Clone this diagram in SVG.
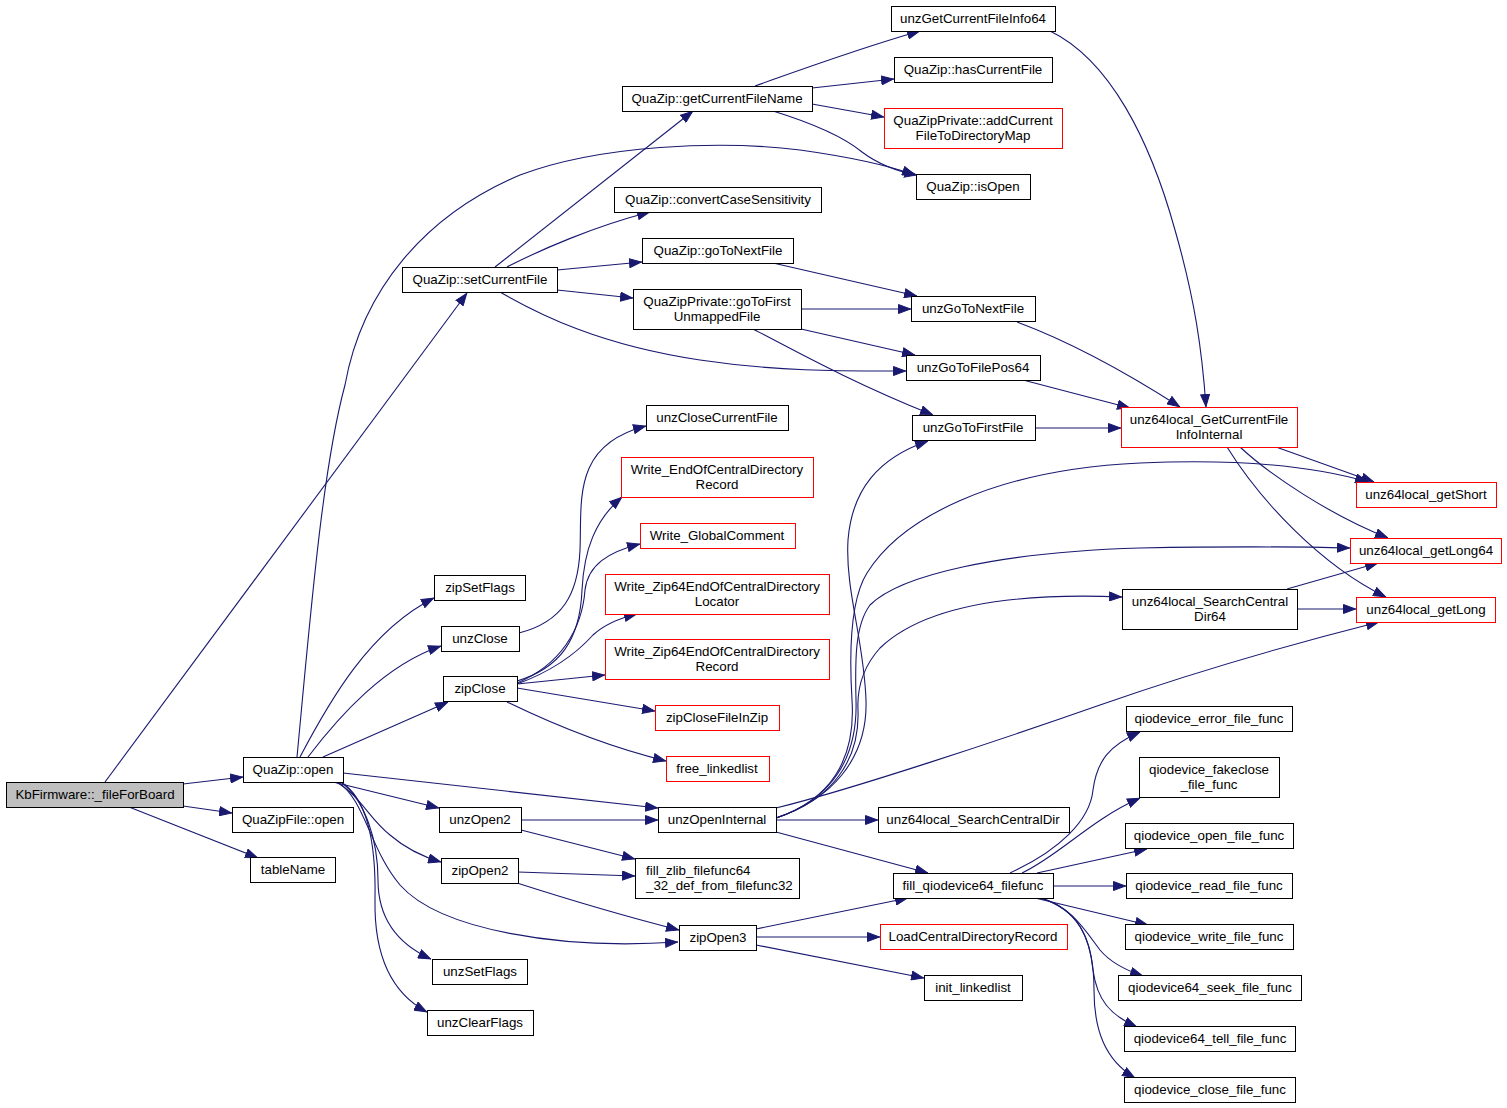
<svg xmlns="http://www.w3.org/2000/svg" width="1507" height="1108" viewBox="0 0 1507 1108">
<defs>
<marker id="ah" viewBox="0 0 13 10" markerWidth="13" markerHeight="10" refX="13" refY="5" markerUnits="userSpaceOnUse" orient="auto">
<path d="M0.5,0.5 L12.5,5 L0.5,9.5 z" fill="#191970" stroke="#191970" stroke-width="1"/>
</marker>
<style>
.n rect{fill:#ffffff;stroke:#000000;stroke-width:1}
.n.r rect{stroke:#ff0000}
.n.root rect{fill:#bfbfbf}
.n text{font-family:"Liberation Sans",Arial,Helvetica,sans-serif;font-size:13.33px;fill:#000000;text-anchor:middle}
.n text.l{text-anchor:start}
#edges path{fill:none;stroke:#191970;stroke-width:1.1;marker-end:url(#ah)}
</style>
</defs>
<rect x="0" y="0" width="1507" height="1108" fill="#ffffff"/>
<g id="edges">
<path d="M105,782 L467,293"/>
<path d="M183,784 L243,777"/>
<path d="M183,806 L232,813"/>
<path d="M129,807 L258,858"/>
<path d="M495,267 L693,111"/>
<path d="M507,267 C540,250 595,226 650,212"/>
<path d="M557,270 L642,262"/>
<path d="M557,290 L633,298"/>
<path d="M500,292 C540,315 600,345 700,360 C780,372 850,371 906,371"/>
<path d="M297,757 C310,620 322,470 345,385 C362,290 425,215 520,175 C600,145 720,140 800,150 C850,157 890,166 915,175"/>
<path d="M755,86 C800,70 860,48 920,31"/>
<path d="M812,88 L894,79"/>
<path d="M812,104 L884,117"/>
<path d="M773,111 C815,124 845,138 862,152 C878,164 895,171 917,175"/>
<path d="M773,263 L917,296"/>
<path d="M801,309 L911,309"/>
<path d="M801,329 L915,355"/>
<path d="M753,329 C790,348 850,382 933,415"/>
<path d="M1050,31 C1110,60 1150,140 1175,230 C1195,300 1202,350 1206,407"/>
<path d="M1017,322 C1060,338 1110,362 1180,407"/>
<path d="M1023,380 L1130,408"/>
<path d="M1035,428 L1121,428"/>
<path d="M1276,447 L1374,482"/>
<path d="M1240,447 C1270,475 1330,515 1388,538"/>
<path d="M1227,447 C1260,500 1320,565 1386,597"/>
<path d="M776,818 C830,800 868,760 866,700 C864,640 845,590 848,540 C852,490 878,458 928,441"/>
<path d="M776,818 C830,800 856,760 852,700 C849,650 850,600 867,573 C900,520 990,470 1140,463 C1250,458 1320,468 1368,482"/>
<path d="M776,818 C830,800 858,760 856,700 C855,660 855,625 870,605 C900,575 1000,552 1140,548 C1250,546 1310,547 1350,548"/>
<path d="M776,818 C832,800 860,760 858,710 C857,690 862,668 880,648 C920,610 1000,592 1122,597"/>
<path d="M776,808 C850,790 1000,740 1100,705 C1200,670 1300,642 1379,622"/>
<path d="M776,820 L878,820"/>
<path d="M776,832 L928,873"/>
<path d="M519,633 C562,622 578,595 580,550 C582,500 572,445 646,426"/>
<path d="M517,681 C560,668 580,640 582,590 C584,550 595,520 622,497"/>
<path d="M517,683 C560,665 582,630 585,590 C588,565 608,552 640,544"/>
<path d="M517,684 C550,672 575,655 593,635 C605,624 620,618 637,614"/>
<path d="M517,684 L605,675"/>
<path d="M517,688 L655,711"/>
<path d="M507,702 C540,718 600,745 666,761"/>
<path d="M300,757 C330,700 370,630 434,598"/>
<path d="M308,757 C340,715 385,665 441,646"/>
<path d="M323,757 L448,702"/>
<path d="M343,773 L658,808"/>
<path d="M333,782 L439,808"/>
<path d="M336,782 C360,795 370,820 390,835 C405,848 420,856 441,862"/>
<path d="M338,782 C365,800 370,850 400,885 C440,930 560,950 678,942"/>
<path d="M341,782 C365,800 378,840 378,880 C378,920 400,945 431,959"/>
<path d="M341,782 C370,800 376,850 375,900 C374,960 395,995 427,1012"/>
<path d="M521,820 L658,820"/>
<path d="M521,830 L635,859"/>
<path d="M518,872 L635,876"/>
<path d="M517,883 C570,900 620,915 679,930"/>
<path d="M756,929 L908,898"/>
<path d="M756,937 L880,937"/>
<path d="M756,945 L924,978"/>
<path d="M1287,589 L1378,563"/>
<path d="M1297,609 L1356,609"/>
<path d="M1010,873 C1060,850 1090,820 1093,790 C1097,760 1110,745 1140,732"/>
<path d="M1022,873 C1060,855 1090,820 1140,798"/>
<path d="M1037,873 L1147,849"/>
<path d="M1053,886 L1126,886"/>
<path d="M1035,898 L1148,925"/>
<path d="M1040,898 C1070,905 1085,930 1100,950 C1110,962 1125,970 1143,976"/>
<path d="M1040,898 C1080,910 1090,940 1093,970 C1097,1000 1110,1015 1137,1027"/>
<path d="M1040,898 C1085,910 1094,950 1094,990 C1094,1030 1105,1060 1135,1078"/>
</g>
<g id="n_root" class="n root"><rect x="6.5" y="782.5" width="177" height="25"/><text x="95" y="799">KbFirmware::_fileForBoard</text></g>
<g id="n_setCurrentFile" class="n"><rect x="402.5" y="267.5" width="155" height="25"/><text x="480" y="284">QuaZip::setCurrentFile</text></g>
<g id="n_open" class="n"><rect x="243.5" y="757.5" width="100" height="25"/><text x="293" y="774">QuaZip::open</text></g>
<g id="n_fileopen" class="n"><rect x="232.5" y="807.5" width="121" height="25"/><text x="293" y="824">QuaZipFile::open</text></g>
<g id="n_tableName" class="n"><rect x="250.5" y="857.5" width="85" height="25"/><text x="293" y="874">tableName</text></g>
<g id="n_getCurrentFileName" class="n"><rect x="622.5" y="86.5" width="190" height="25"/><text x="717" y="103">QuaZip::getCurrentFileName</text></g>
<g id="n_convertCase" class="n"><rect x="614.5" y="187.5" width="207" height="25"/><text x="718" y="204">QuaZip::convertCaseSensitivity</text></g>
<g id="n_goToNextFile" class="n"><rect x="642.5" y="238.5" width="151" height="25"/><text x="718" y="255">QuaZip::goToNextFile</text></g>
<g id="n_goToFirstUnmapped" class="n"><rect x="633.5" y="289.5" width="168" height="40"/><text x="717" y="306">QuaZipPrivate::goToFirst</text><text x="717" y="320.5">UnmappedFile</text></g>
<g id="n_unzGetCurrentFileInfo64" class="n"><rect x="891.5" y="6.5" width="164" height="25"/><text x="973" y="23">unzGetCurrentFileInfo64</text></g>
<g id="n_hasCurrentFile" class="n"><rect x="894.5" y="57.5" width="158" height="25"/><text x="973" y="74">QuaZip::hasCurrentFile</text></g>
<g id="n_addCurrent" class="n r"><rect x="884.5" y="108.5" width="178" height="40"/><text x="973" y="125">QuaZipPrivate::addCurrent</text><text x="973" y="139.5">FileToDirectoryMap</text></g>
<g id="n_isOpen" class="n"><rect x="916.5" y="174.5" width="114" height="25"/><text x="973" y="191">QuaZip::isOpen</text></g>
<g id="n_unzGoToNextFile" class="n"><rect x="911.5" y="296.5" width="124" height="25"/><text x="973" y="313">unzGoToNextFile</text></g>
<g id="n_unzGoToFilePos64" class="n"><rect x="906.5" y="355.5" width="134" height="25"/><text x="973" y="372">unzGoToFilePos64</text></g>
<g id="n_unzGoToFirstFile" class="n"><rect x="912.5" y="415.5" width="123" height="25"/><text x="973" y="432">unzGoToFirstFile</text></g>
<g id="n_gcfii" class="n r"><rect x="1121.5" y="407.5" width="176" height="40"/><text x="1209" y="424">unz64local_GetCurrentFile</text><text x="1209" y="438.5">InfoInternal</text></g>
<g id="n_getShort" class="n r"><rect x="1356.5" y="482.5" width="140" height="25"/><text x="1426" y="499">unz64local_getShort</text></g>
<g id="n_getLong64" class="n r"><rect x="1350.5" y="538.5" width="151" height="25"/><text x="1426" y="555">unz64local_getLong64</text></g>
<g id="n_getLong" class="n r"><rect x="1356.5" y="597.5" width="139" height="25"/><text x="1426" y="614">unz64local_getLong</text></g>
<g id="n_searchCD64" class="n"><rect x="1122.5" y="589.5" width="175" height="40"/><text x="1210" y="606">unz64local_SearchCentral</text><text x="1210" y="620.5">Dir64</text></g>
<g id="n_unzCloseCurrentFile" class="n"><rect x="646.5" y="405.5" width="142" height="25"/><text x="717" y="422">unzCloseCurrentFile</text></g>
<g id="n_weocdr" class="n r"><rect x="621.5" y="457.5" width="192" height="40"/><text x="717" y="474">Write_EndOfCentralDirectory</text><text x="717" y="488.5">Record</text></g>
<g id="n_wgc" class="n r"><rect x="640.5" y="523.5" width="155" height="25"/><text x="717" y="540">Write_GlobalComment</text></g>
<g id="n_wz64loc" class="n r"><rect x="605.5" y="574.5" width="224" height="40"/><text x="717" y="591">Write_Zip64EndOfCentralDirectory</text><text x="717" y="605.5">Locator</text></g>
<g id="n_wz64rec" class="n r"><rect x="605.5" y="639.5" width="224" height="40"/><text x="717" y="656">Write_Zip64EndOfCentralDirectory</text><text x="717" y="670.5">Record</text></g>
<g id="n_zipSetFlags" class="n"><rect x="434.5" y="575.5" width="91" height="25"/><text x="480" y="592">zipSetFlags</text></g>
<g id="n_unzClose" class="n"><rect x="441.5" y="626.5" width="78" height="25"/><text x="480" y="643">unzClose</text></g>
<g id="n_zipClose" class="n"><rect x="443.5" y="676.5" width="74" height="25"/><text x="480" y="693">zipClose</text></g>
<g id="n_zipCloseFileInZip" class="n r"><rect x="655.5" y="705.5" width="124" height="25"/><text x="717" y="722">zipCloseFileInZip</text></g>
<g id="n_free_linkedlist" class="n r"><rect x="666.5" y="756.5" width="103" height="25"/><text x="717" y="773">free_linkedlist</text></g>
<g id="n_unzOpen2" class="n"><rect x="439.5" y="807.5" width="82" height="25"/><text x="480" y="824">unzOpen2</text></g>
<g id="n_unzOpenInternal" class="n"><rect x="658.5" y="807.5" width="118" height="25"/><text x="717" y="824">unzOpenInternal</text></g>
<g id="n_zipOpen2" class="n"><rect x="441.5" y="858.5" width="77" height="25"/><text x="480" y="875">zipOpen2</text></g>
<g id="n_fill_zlib" class="n"><rect x="635.5" y="858.5" width="164" height="40"/><text class="l" x="646" y="875">fill_zlib_filefunc64</text><text class="l" x="646" y="889.5">_32_def_from_filefunc32</text></g>
<g id="n_zipOpen3" class="n"><rect x="679.5" y="925.5" width="77" height="25"/><text x="718" y="942">zipOpen3</text></g>
<g id="n_unzSetFlags" class="n"><rect x="432.5" y="959.5" width="95" height="25"/><text x="480" y="976">unzSetFlags</text></g>
<g id="n_unzClearFlags" class="n"><rect x="427.5" y="1010.5" width="106" height="25"/><text x="480" y="1027">unzClearFlags</text></g>
<g id="n_searchCD" class="n"><rect x="878.5" y="807.5" width="191" height="25"/><text x="973" y="824">unz64local_SearchCentralDir</text></g>
<g id="n_fill_q" class="n"><rect x="893.5" y="873.5" width="160" height="25"/><text x="973" y="890">fill_qiodevice64_filefunc</text></g>
<g id="n_loadCDR" class="n r"><rect x="880.5" y="924.5" width="187" height="25"/><text x="973" y="941">LoadCentralDirectoryRecord</text></g>
<g id="n_init_linkedlist" class="n"><rect x="924.5" y="975.5" width="98" height="25"/><text x="973" y="992">init_linkedlist</text></g>
<g id="n_q_error" class="n"><rect x="1126.5" y="706.5" width="166" height="25"/><text x="1209" y="723">qiodevice_error_file_func</text></g>
<g id="n_q_fakeclose" class="n"><rect x="1139.5" y="757.5" width="140" height="40"/><text x="1209" y="774">qiodevice_fakeclose</text><text x="1209" y="788.5">_file_func</text></g>
<g id="n_q_open" class="n"><rect x="1125.5" y="823.5" width="168" height="25"/><text x="1209" y="840">qiodevice_open_file_func</text></g>
<g id="n_q_read" class="n"><rect x="1126.5" y="873.5" width="166" height="25"/><text x="1209" y="890">qiodevice_read_file_func</text></g>
<g id="n_q_write" class="n"><rect x="1125.5" y="924.5" width="168" height="25"/><text x="1209" y="941">qiodevice_write_file_func</text></g>
<g id="n_q_seek" class="n"><rect x="1118.5" y="975.5" width="183" height="25"/><text x="1210" y="992">qiodevice64_seek_file_func</text></g>
<g id="n_q_tell" class="n"><rect x="1124.5" y="1026.5" width="171" height="25"/><text x="1210" y="1043">qiodevice64_tell_file_func</text></g>
<g id="n_q_close" class="n"><rect x="1124.5" y="1077.5" width="171" height="25"/><text x="1210" y="1094">qiodevice_close_file_func</text></g>
</svg>
